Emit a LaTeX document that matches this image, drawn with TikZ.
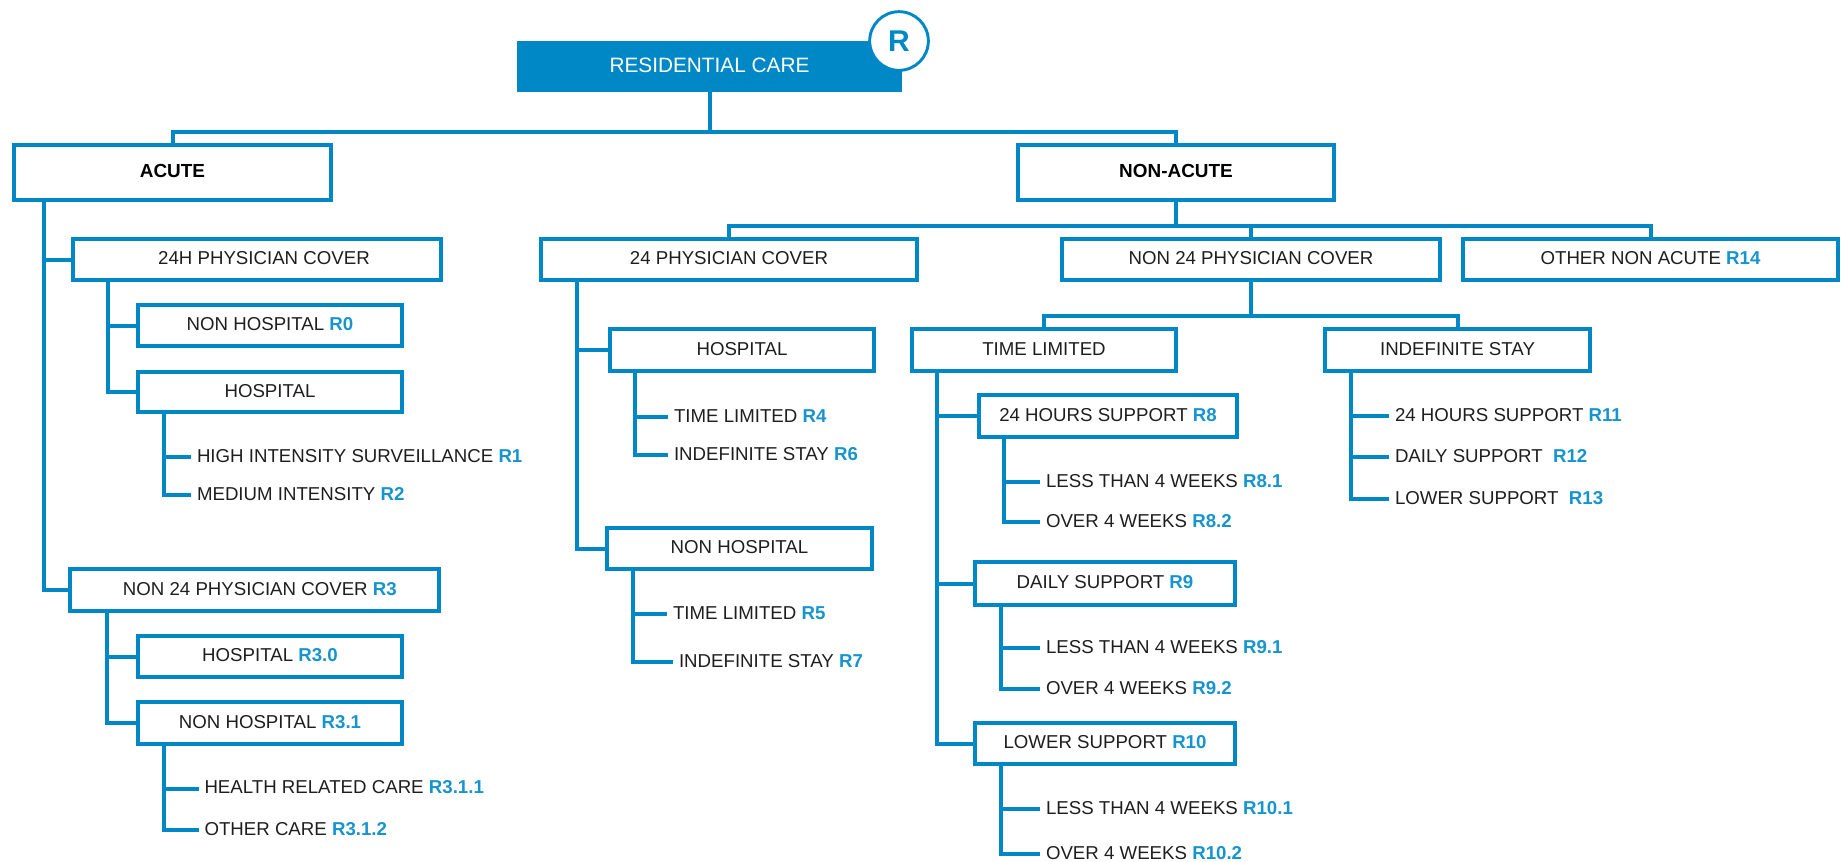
\documentclass[tikz,border=0pt]{standalone}
\usepackage{fontspec}
\setmainfont{Liberation Sans}
\definecolor{lineblue}{HTML}{0088C6}
\definecolor{rblue}{HTML}{1794CE}
\definecolor{inkdark}{HTML}{1E1E1E}
\newcommand{\Rl}[1]{\textcolor{rblue}{\textbf{#1}}}
\newcommand{\bx}[7][boxn]{%
  \pgfmathsetmacro{\cx}{(#3+#5)/2}%
  \pgfmathsetmacro{\cy}{(#4+#6)/2}%
  \node[#1,minimum width={(#5-#3-4)*0.75pt},minimum height={(#6-#4-4)*0.75pt}] (#2) at (\cx,\cy) {#7};}
\tikzset{
  x=0.75pt,y=-0.75pt,
  boxn/.style={draw=lineblue,line width=3pt,inner sep=0pt,align=center,text=inkdark,
    font=\fontsize{14pt}{16pt}\selectfont,text height=10pt,text depth=2pt},
  bigbox/.style={boxn,font=\fontsize{14.2pt}{16pt}\selectfont\bfseries,text=black},
  rootbox/.style={boxn,fill=lineblue,text=white,font=\fontsize{15.6pt}{18pt}\selectfont,text height=11pt,text depth=2pt},
  badge/.style={circle,draw=lineblue,line width=2.2pt,fill=white,minimum size=44pt,inner sep=0pt,
    text=lineblue,font=\fontsize{22.5pt}{24pt}\selectfont\bfseries},
  leaf/.style={anchor=west,inner ysep=0pt,inner xsep=0pt,outer xsep=4.5pt,outer ysep=0pt,text=inkdark,
    font=\fontsize{14pt}{16pt}\selectfont,text height=10pt,text depth=2pt},
  wire/.style={draw=lineblue,line width=3pt,line join=miter},
}
\begin{document}
\begin{tikzpicture}
\useasboundingbox (0,0) rectangle (1841,861);
% top levels
\bx[rootbox]{root}{517}{41}{902}{92}{RESIDENTIAL CARE}
\node[badge] (badge) at (899,41) {R};
\bx[bigbox]{acute}{12}{143}{333}{202}{ACUTE}
\bx[bigbox]{nonacute}{1016}{143}{1336}{202}{NON-ACUTE}
% acute branch
\bx{ahr}{71}{237}{443}{282}{\hspace*{10.5pt}24H PHYSICIAN COVER}
\bx{ar0}{136}{303}{404}{348}{NON HOSPITAL \Rl{R0}}
\bx{ahosp}{136}{370}{404}{414}{HOSPITAL}
\node[leaf] (r1) at (191,457) {HIGH INTENSITY SURVEILLANCE \Rl{R1}};
\node[leaf] (r2) at (191,495) {MEDIUM INTENSITY \Rl{R2}};
\bx{ar3}{68}{567}{441}{613}{\hspace*{8pt}NON 24 PHYSICIAN COVER \Rl{R3}}
\bx{ar30}{136}{634}{404}{679}{HOSPITAL \Rl{R3.0}}
\bx{ar31}{136}{700}{404}{746}{NON HOSPITAL \Rl{R3.1}}
\node[leaf] (r311) at (198.5,788.5) {HEALTH RELATED CARE \Rl{R3.1.1}};
\node[leaf] (r312) at (198.5,830) {OTHER CARE \Rl{R3.1.2}};
% non-acute, 24 physician cover
\bx{nphy}{539}{237}{919}{282}{24 PHYSICIAN COVER}
\bx{nhosp}{608}{327}{876}{373}{HOSPITAL}
\node[leaf] (r4) at (668,417) {TIME LIMITED \Rl{R4}};
\node[leaf] (r6) at (668,455) {INDEFINITE STAY \Rl{R6}};
\bx{nnon}{605}{526}{874}{571}{NON HOSPITAL}
\node[leaf] (r5) at (667,614) {TIME LIMITED \Rl{R5}};
\node[leaf] (r7) at (673,662) {INDEFINITE STAY \Rl{R7}};
% non 24 physician cover
\bx{nnt}{1060}{237}{1442}{282}{NON 24 PHYSICIAN COVER}
\bx{nother}{1461}{237}{1840}{282}{OTHER NON ACUTE \Rl{R14}}
\bx{ntime}{910}{327}{1178}{373}{TIME LIMITED}
\bx{nind}{1323}{327}{1592}{373}{INDEFINITE STAY}
\bx{r8}{977}{393}{1239}{439}{24 HOURS SUPPORT \Rl{R8}}
\node[leaf] (r81) at (1040,482) {LESS THAN 4 WEEKS \Rl{R8.1}};
\node[leaf] (r82) at (1040,522) {OVER 4 WEEKS \Rl{R8.2}};
\bx{r9}{973}{560}{1237}{607}{DAILY SUPPORT \Rl{R9}}
\node[leaf] (r91) at (1040,648) {LESS THAN 4 WEEKS \Rl{R9.1}};
\node[leaf] (r92) at (1040,689) {OVER 4 WEEKS \Rl{R9.2}};
\bx{r10}{973}{721}{1237}{766}{LOWER SUPPORT \Rl{R10}}
\node[leaf] (r101) at (1040,809) {LESS THAN 4 WEEKS \Rl{R10.1}};
\node[leaf] (r102) at (1040,854) {OVER 4 WEEKS \Rl{R10.2}};
\node[leaf] (r11) at (1389,416) {24 HOURS SUPPORT \Rl{R11}};
\node[leaf] (r12) at (1389,457) {DAILY SUPPORT~~\Rl{R12}};
\node[leaf] (r13) at (1389,499) {LOWER SUPPORT~~\Rl{R13}};
% trunks
\coordinate (tacute) at (44,0);
\coordinate (tahr) at (108,0);
\coordinate (tahosp) at (164,0);
\coordinate (tar3) at (107,0);
\coordinate (tar31) at (164,0);
\coordinate (tnphy) at (577,0);
\coordinate (tnhosp) at (635,0);
\coordinate (tnnon) at (633,0);
\coordinate (tntime) at (937,0);
\coordinate (tr8) at (1004,0);
\coordinate (tr9) at (1001,0);
\coordinate (tr10) at (1001,0);
\coordinate (tnind) at (1351,0);
\coordinate (bartop) at (0,132);
\coordinate (barna) at (0,226);
\coordinate (barnt) at (0,316);
% connectors
\draw[wire] (root.south) -- (root.south |- bartop);
\draw[wire] (acute.north) |- (bartop -| nonacute.north) -- (nonacute.north);
\draw[wire] (nonacute.south) -- (nonacute.south |- barna);
\draw[wire] (nphy.north) |- (barna -| nother.north) -- (nother.north);
\draw[wire] (nnt.north) -- (nnt.north |- barna);
\draw[wire] (nnt.south) -- (nnt.south |- barnt);
\draw[wire] (ntime.north) |- (barnt -| nind.north) -- (nind.north);
\draw[wire] (acute.south -| tacute) |- (ahr.west);
\draw[wire] (acute.south -| tacute) |- (ar3.west);
\draw[wire] (ahr.south -| tahr) |- (ar0.west);
\draw[wire] (ahr.south -| tahr) |- (ahosp.west);
\draw[wire] (ahosp.south -| tahosp) |- (r1.west);
\draw[wire] (ahosp.south -| tahosp) |- (r2.west);
\draw[wire] (ar3.south -| tar3) |- (ar30.west);
\draw[wire] (ar3.south -| tar3) |- (ar31.west);
\draw[wire] (ar31.south -| tar31) |- (r311.west);
\draw[wire] (ar31.south -| tar31) |- (r312.west);
\draw[wire] (nphy.south -| tnphy) |- (nhosp.west);
\draw[wire] (nphy.south -| tnphy) |- (nnon.west);
\draw[wire] (nhosp.south -| tnhosp) |- (r4.west);
\draw[wire] (nhosp.south -| tnhosp) |- (r6.west);
\draw[wire] (nnon.south -| tnnon) |- (r5.west);
\draw[wire] (nnon.south -| tnnon) |- (r7.west);
\draw[wire] (ntime.south -| tntime) |- (r8.west);
\draw[wire] (ntime.south -| tntime) |- (r9.west);
\draw[wire] (ntime.south -| tntime) |- (r10.west);
\draw[wire] (r8.south -| tr8) |- (r81.west);
\draw[wire] (r8.south -| tr8) |- (r82.west);
\draw[wire] (r9.south -| tr9) |- (r91.west);
\draw[wire] (r9.south -| tr9) |- (r92.west);
\draw[wire] (r10.south -| tr10) |- (r101.west);
\draw[wire] (r10.south -| tr10) |- (r102.west);
\draw[wire] (nind.south -| tnind) |- (r11.west);
\draw[wire] (nind.south -| tnind) |- (r12.west);
\draw[wire] (nind.south -| tnind) |- (r13.west);
\end{tikzpicture}
\end{document}
